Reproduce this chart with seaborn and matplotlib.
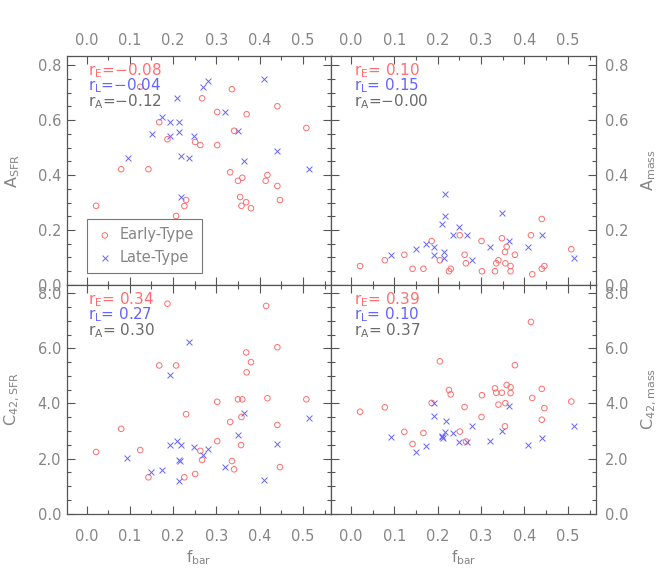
import numpy as np
import pandas as pd
import matplotlib
matplotlib.use("Agg")
import matplotlib.pyplot as plt
import seaborn as sns
from matplotlib.ticker import MultipleLocator, FormatStrFormatter

# ---------------- data ----------------
# Top-left: A_SFR vs f_bar
fbar_E_Asfr = [0.022, 0.080, 0.124, 0.143, 0.168, 0.187, 0.207, 0.226, 0.230, 0.251,
               0.263, 0.267, 0.302, 0.302, 0.332, 0.336, 0.341, 0.350, 0.360, 0.355,
               0.358, 0.369, 0.380, 0.370, 0.418, 0.414, 0.441, 0.441, 0.447, 0.508]
Asfr_E = [0.288, 0.421, 0.721, 0.421, 0.592, 0.530, 0.251, 0.287, 0.309, 0.520,
          0.509, 0.679, 0.629, 0.509, 0.410, 0.712, 0.561, 0.379, 0.390, 0.320,
          0.288, 0.301, 0.279, 0.621, 0.400, 0.379, 0.650, 0.360, 0.309, 0.571]
fbar_L_Asfr = [0.095, 0.151, 0.174, 0.194, 0.194, 0.210, 0.214, 0.214, 0.218, 0.237,
               0.219, 0.249, 0.270, 0.281, 0.320, 0.351, 0.364, 0.409, 0.441, 0.514]
Asfr_L = [0.462, 0.550, 0.610, 0.592, 0.542, 0.679, 0.592, 0.556, 0.470, 0.461,
          0.321, 0.542, 0.721, 0.742, 0.629, 0.559, 0.450, 0.750, 0.488, 0.421]

# Top-right: A_mass vs f_bar
fbar_E_Amass = [0.021, 0.078, 0.123, 0.142, 0.167, 0.186, 0.205, 0.226, 0.230, 0.251,
                0.262, 0.265, 0.301, 0.302, 0.332, 0.335, 0.340, 0.348, 0.355, 0.359,
                0.356, 0.368, 0.368, 0.378, 0.415, 0.418, 0.440, 0.440, 0.446, 0.508]
Amass_E = [0.069, 0.090, 0.110, 0.059, 0.059, 0.160, 0.090, 0.050, 0.059, 0.181,
           0.110, 0.079, 0.160, 0.050, 0.050, 0.079, 0.090, 0.170, 0.120, 0.139,
           0.079, 0.069, 0.050, 0.110, 0.181, 0.039, 0.240, 0.059, 0.069, 0.130]
fbar_L_Amass = [0.092, 0.149, 0.173, 0.192, 0.192, 0.209, 0.217, 0.217, 0.214, 0.214,
                0.235, 0.249, 0.268, 0.280, 0.320, 0.348, 0.364, 0.408, 0.440, 0.514]
Amass_L = [0.110, 0.130, 0.150, 0.139, 0.110, 0.221, 0.330, 0.251, 0.120, 0.099,
           0.181, 0.211, 0.181, 0.090, 0.139, 0.261, 0.160, 0.139, 0.181, 0.099]

# Bottom-left: C42,SFR vs f_bar
fbar_E_Csfr = [0.022, 0.080, 0.124, 0.143, 0.168, 0.187, 0.207, 0.226, 0.230, 0.251,
               0.263, 0.267, 0.302, 0.302, 0.332, 0.336, 0.341, 0.350, 0.360, 0.358,
               0.357, 0.370, 0.380, 0.369, 0.415, 0.418, 0.441, 0.441, 0.447, 0.508]
Csfr_E = [2.24, 3.08, 2.31, 1.32, 5.38, 7.62, 5.38, 1.32, 3.61, 1.44,
          2.28, 1.95, 4.06, 2.63, 3.33, 1.91, 1.61, 4.15, 4.15, 3.51,
          2.49, 5.13, 5.50, 5.85, 7.54, 4.19, 3.22, 6.04, 1.69, 4.15]
fbar_L_Csfr = [0.094, 0.150, 0.174, 0.194, 0.194, 0.210, 0.218, 0.214, 0.217, 0.214,
               0.237, 0.249, 0.270, 0.281, 0.320, 0.351, 0.364, 0.409, 0.441, 0.514]
Csfr_L = [2.01, 1.50, 1.57, 2.49, 5.04, 2.64, 2.49, 1.95, 1.91, 1.19,
          6.23, 2.43, 2.13, 2.34, 1.71, 2.85, 3.64, 1.22, 2.52, 3.49]

# Bottom-right: C42,mass vs f_bar
fbar_E_Cmass = [0.021, 0.078, 0.123, 0.142, 0.167, 0.186, 0.205, 0.226, 0.230, 0.251,
                0.262, 0.265, 0.301, 0.302, 0.332, 0.335, 0.340, 0.348, 0.355, 0.359,
                0.356, 0.368, 0.368, 0.378, 0.415, 0.418, 0.440, 0.440, 0.446, 0.508]
Cmass_E = [3.70, 3.86, 2.97, 2.53, 2.93, 4.02, 5.53, 4.49, 4.33, 2.98,
           3.87, 2.62, 3.51, 4.30, 4.55, 4.39, 3.96, 4.39, 3.17, 4.67,
           4.01, 4.59, 4.38, 5.39, 6.96, 4.20, 4.53, 3.41, 3.83, 4.07]
fbar_L_Cmass = [0.092, 0.149, 0.173, 0.192, 0.192, 0.209, 0.218, 0.217, 0.213, 0.211,
                0.235, 0.249, 0.268, 0.280, 0.320, 0.348, 0.364, 0.408, 0.440, 0.514]
Cmass_L = [2.80, 2.23, 2.46, 4.02, 3.55, 2.80, 3.38, 2.98, 2.76, 2.83,
           2.91, 2.60, 2.60, 3.17, 2.64, 3.00, 3.89, 2.49, 2.74, 3.17]

# correlation labels
r_E = ["\u22120.08", " 0.10", " 0.34", " 0.39"]
r_L = ["\u22120.04", " 0.15", " 0.27", " 0.10"]
r_A = ["\u22120.12", "\u22120.00", " 0.30", " 0.37"]

ylabels = [r"A$_\mathregular{SFR}$", r"A$_\mathregular{mass}$",
           r"C$_\mathregular{42,SFR}$", r"C$_\mathregular{42,mass}$"]
xlabel = r"f$_\mathregular{bar}$"
legend_labels = ["Early-Type", "Late-Type"]

# ---------------- style ----------------
sns.set_theme(style="white")
plt.rcParams['font.family'] = ['DejaVu Sans']
plt.rcParams['mathtext.default'] = 'regular'

RED = '#ff6e6e'
BLUE = '#6464ff'
GRAY = '#6a6a6a'
AX = '#555555'
TXT = '#858585'

fig = plt.figure(figsize=(6.64, 5.71), dpi=100)
Lx, Mx, Rx = 0.1004, 0.4985, 0.8976
By, My, Ty = 0.1004, 0.5009, 0.902
axTL = fig.add_axes([Lx, My, Mx - Lx, Ty - My])
axTR = fig.add_axes([Mx, My, Rx - Mx, Ty - My])
axBL = fig.add_axes([Lx, By, Mx - Lx, My - By])
axBR = fig.add_axes([Mx, By, Rx - Mx, My - By])

panels = [
    (axTL, fbar_E_Asfr, Asfr_E, fbar_L_Asfr, Asfr_L),
    (axTR, fbar_E_Amass, Amass_E, fbar_L_Amass, Amass_L),
    (axBL, fbar_E_Csfr, Csfr_E, fbar_L_Csfr, Csfr_L),
    (axBR, fbar_E_Cmass, Cmass_E, fbar_L_Cmass, Cmass_L),
]

for i, (ax, fe, ye, fl, yl) in enumerate(panels):
    dfe = pd.DataFrame({"fbar": fe, "y": ye})
    dfl = pd.DataFrame({"fbar": fl, "y": yl})
    sns.scatterplot(data=dfe, x="fbar", y="y", ax=ax, marker='o', s=16,
                    facecolor='none', edgecolor=RED, linewidth=0.7,
                    label=legend_labels[0] if i == 0 else None, legend=False)
    sns.scatterplot(data=dfl, x="fbar", y="y", ax=ax, marker='x', s=18,
                    color=BLUE, linewidth=0.7,
                    label=legend_labels[1] if i == 0 else None, legend=False)
    ax.set_xlim(-0.046, 0.565)
    top = i < 2
    if top:
        ax.set_ylim(0, 0.833)
        ax.yaxis.set_major_locator(MultipleLocator(0.2))
        ax.yaxis.set_minor_locator(MultipleLocator(0.05))
    else:
        ax.set_ylim(0, 8.3)
        ax.yaxis.set_major_locator(MultipleLocator(2.0))
        ax.yaxis.set_minor_locator(MultipleLocator(0.5))
    ax.xaxis.set_major_locator(MultipleLocator(0.1))
    ax.xaxis.set_minor_locator(MultipleLocator(0.05))
    ax.xaxis.set_major_formatter(FormatStrFormatter('%.1f'))
    ax.yaxis.set_major_formatter(FormatStrFormatter('%.1f'))
    for sp in ax.spines.values():
        sp.set_color(AX)
        sp.set_linewidth(0.9)
    left = i % 2 == 0
    ax.tick_params(which='both', direction='in', top=True, bottom=True,
                   left=True, right=True, colors=AX, labelcolor=TXT,
                   labelsize=10.5, width=0.8)
    ax.tick_params(which='major', length=6)
    ax.tick_params(which='minor', length=3)
    ax.tick_params(axis='x', labeltop=top, labelbottom=not top,
                   pad=(6 if top else 11))
    ax.tick_params(axis='y', labelleft=left, labelright=not left,
                   pad=(4 if left else 6.5))
    ax.set_xlabel(xlabel if not top else "", fontsize=11, color=TXT, labelpad=3)
    if left:
        ax.set_ylabel(ylabels[i], fontsize=11.5, color=TXT, labelpad=11)
    else:
        ax.yaxis.set_label_position('right')
        ax.set_ylabel(ylabels[i], fontsize=11.5, color=TXT, labelpad=8, rotation=90)
    # correlation coefficient texts
    tx = 0.082 if left else 0.087
    for k, (lab, val, col) in enumerate([("E", r_E[i], RED), ("L", r_L[i], BLUE),
                                         ("A", r_A[i], GRAY)]):
        ax.text(tx, 0.975 - k * 0.066, f"r$_\\mathregular{{{lab}}}$=" + val,
                transform=ax.transAxes, ha='left', va='top', fontsize=11,
                color=col)

leg = axTL.legend(loc='lower left', bbox_to_anchor=(0.078, 0.051),
                  borderaxespad=0, frameon=True, fancybox=False,
                  edgecolor=AX, fontsize=10.5, handletextpad=0.4,
                  borderpad=0.6, labelspacing=0.5, handlelength=1.2,
                  markerscale=1.0)
leg.get_frame().set_linewidth(0.8)
for t in leg.get_texts():
    t.set_color(TXT)

fig.savefig("out.png", dpi=100)
